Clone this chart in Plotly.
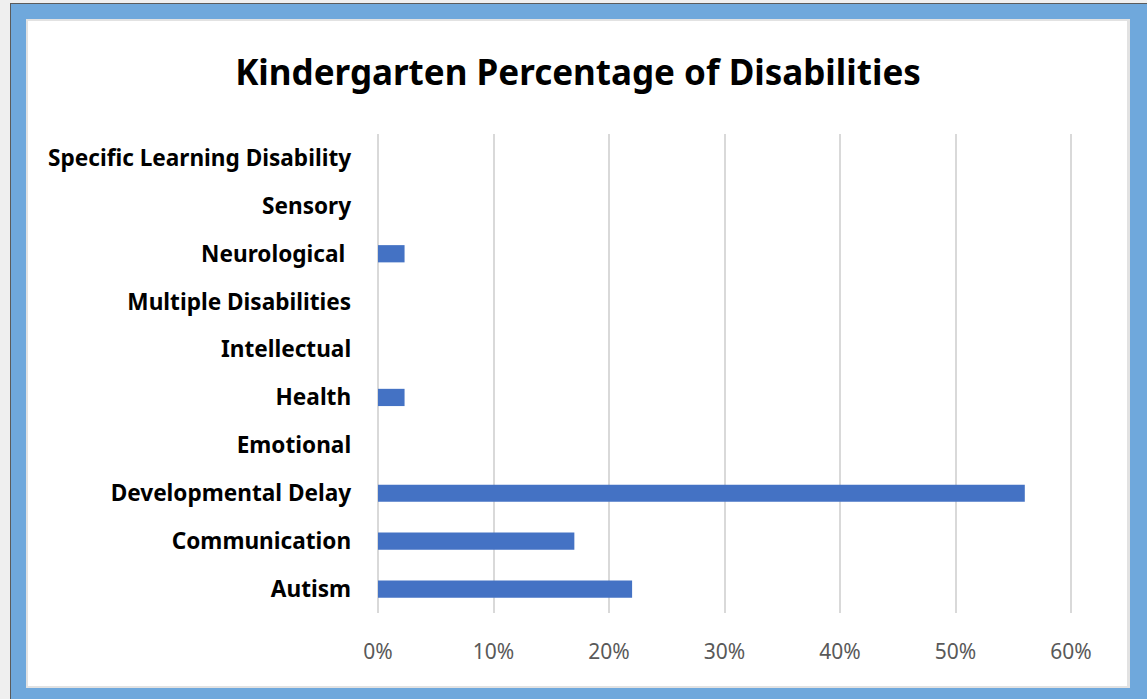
import plotly.graph_objects as go

# Disability categories (bottom to top) and kindergarten share of each
categories = [
    "Autism",
    "Communication",
    "Developmental Delay",
    "Emotional",
    "Health",
    "Intellectual",
    "Multiple Disabilities",
    "Neurological\u00a0",
    "Sensory",
    "Specific Learning Disability",
]
percentages = [0.22, 0.17, 0.56, 0.0, 0.023, 0.0, 0.0, 0.023, 0.0, 0.0]
x_ticks = [0, 0.1, 0.2, 0.3, 0.4, 0.5, 0.6]

W, H = 1147, 699


def px_x(v):
    return v / W


def px_y(v):
    return 1 - v / H


fig = go.Figure(
    go.Bar(
        x=percentages,
        y=categories,
        orientation="h",
        marker=dict(color="#4472c4", line=dict(width=0)),
        hoverinfo="x+y",
    )
)

frame = [
    # dark outer edge, blue frame, soft inner edge, white panel
    (10, 3, 1147, 699, "#5b5b5b"),
    (11, 4, 1147, 699, "#6fa8dc"),
    (26, 19, 1130, 688, "#e2e2e2"),
    (28, 21, 1127, 686, "#ffffff"),
]
shapes = [
    dict(
        type="rect", xref="paper", yref="paper", layer="below",
        x0=px_x(x0), x1=px_x(x1), y0=px_y(y1), y1=px_y(y0),
        fillcolor=c, line=dict(width=0),
    )
    for x0, y0, x1, y1, c in frame
]

# 0%..60% spans x = 378..1071 px; pad the range a little so the
# gridlines at both ends are not clipped, widening the domain to match
x0_px, x1_px, x_max = 378, 1071, 0.6
pad = 0.0025
pad_px = pad * (x1_px - x0_px) / x_max

fig.update_layout(
    width=W,
    height=H,
    autosize=False,
    margin=dict(l=0, r=0, t=0, b=0, pad=0, autoexpand=False),
    paper_bgcolor="#efefef",
    plot_bgcolor="rgba(0,0,0,0)",
    shapes=shapes,
    showlegend=False,
    bargap=0.64,
    title=dict(
        text="<b>Kindergarten Percentage of Disabilities</b>",
        x=px_x(578), xanchor="center",
        y=px_y(73), yanchor="middle",
        font=dict(family="Noto Sans", size=35, color="#000000"),
        automargin=False,
    ),
    xaxis=dict(
        domain=[px_x(x0_px - pad_px), px_x(x1_px + pad_px)],
        range=[-pad, x_max + pad],
        tickvals=x_ticks,
        tickformat=".0%",
        showgrid=True,
        gridcolor="#d9d9d9",
        gridwidth=2,
        zeroline=False,
        showline=False,
        ticks="",
        automargin=False,
        ticklabelstandoff=24,
        tickfont=dict(family="Noto Sans", size=21, color="#595959"),
        fixedrange=True,
    ),
    yaxis=dict(
        domain=[px_y(613), px_y(134)],
        showgrid=False,
        zeroline=False,
        showline=False,
        ticks="",
        automargin=False,
        ticklabelstandoff=int(round(26 - pad_px)),
        tickfont=dict(family="Noto Sans", size=22.6, color="#000000", weight="bold"),
        fixedrange=True,
    ),
)

fig.write_html("out.html")
